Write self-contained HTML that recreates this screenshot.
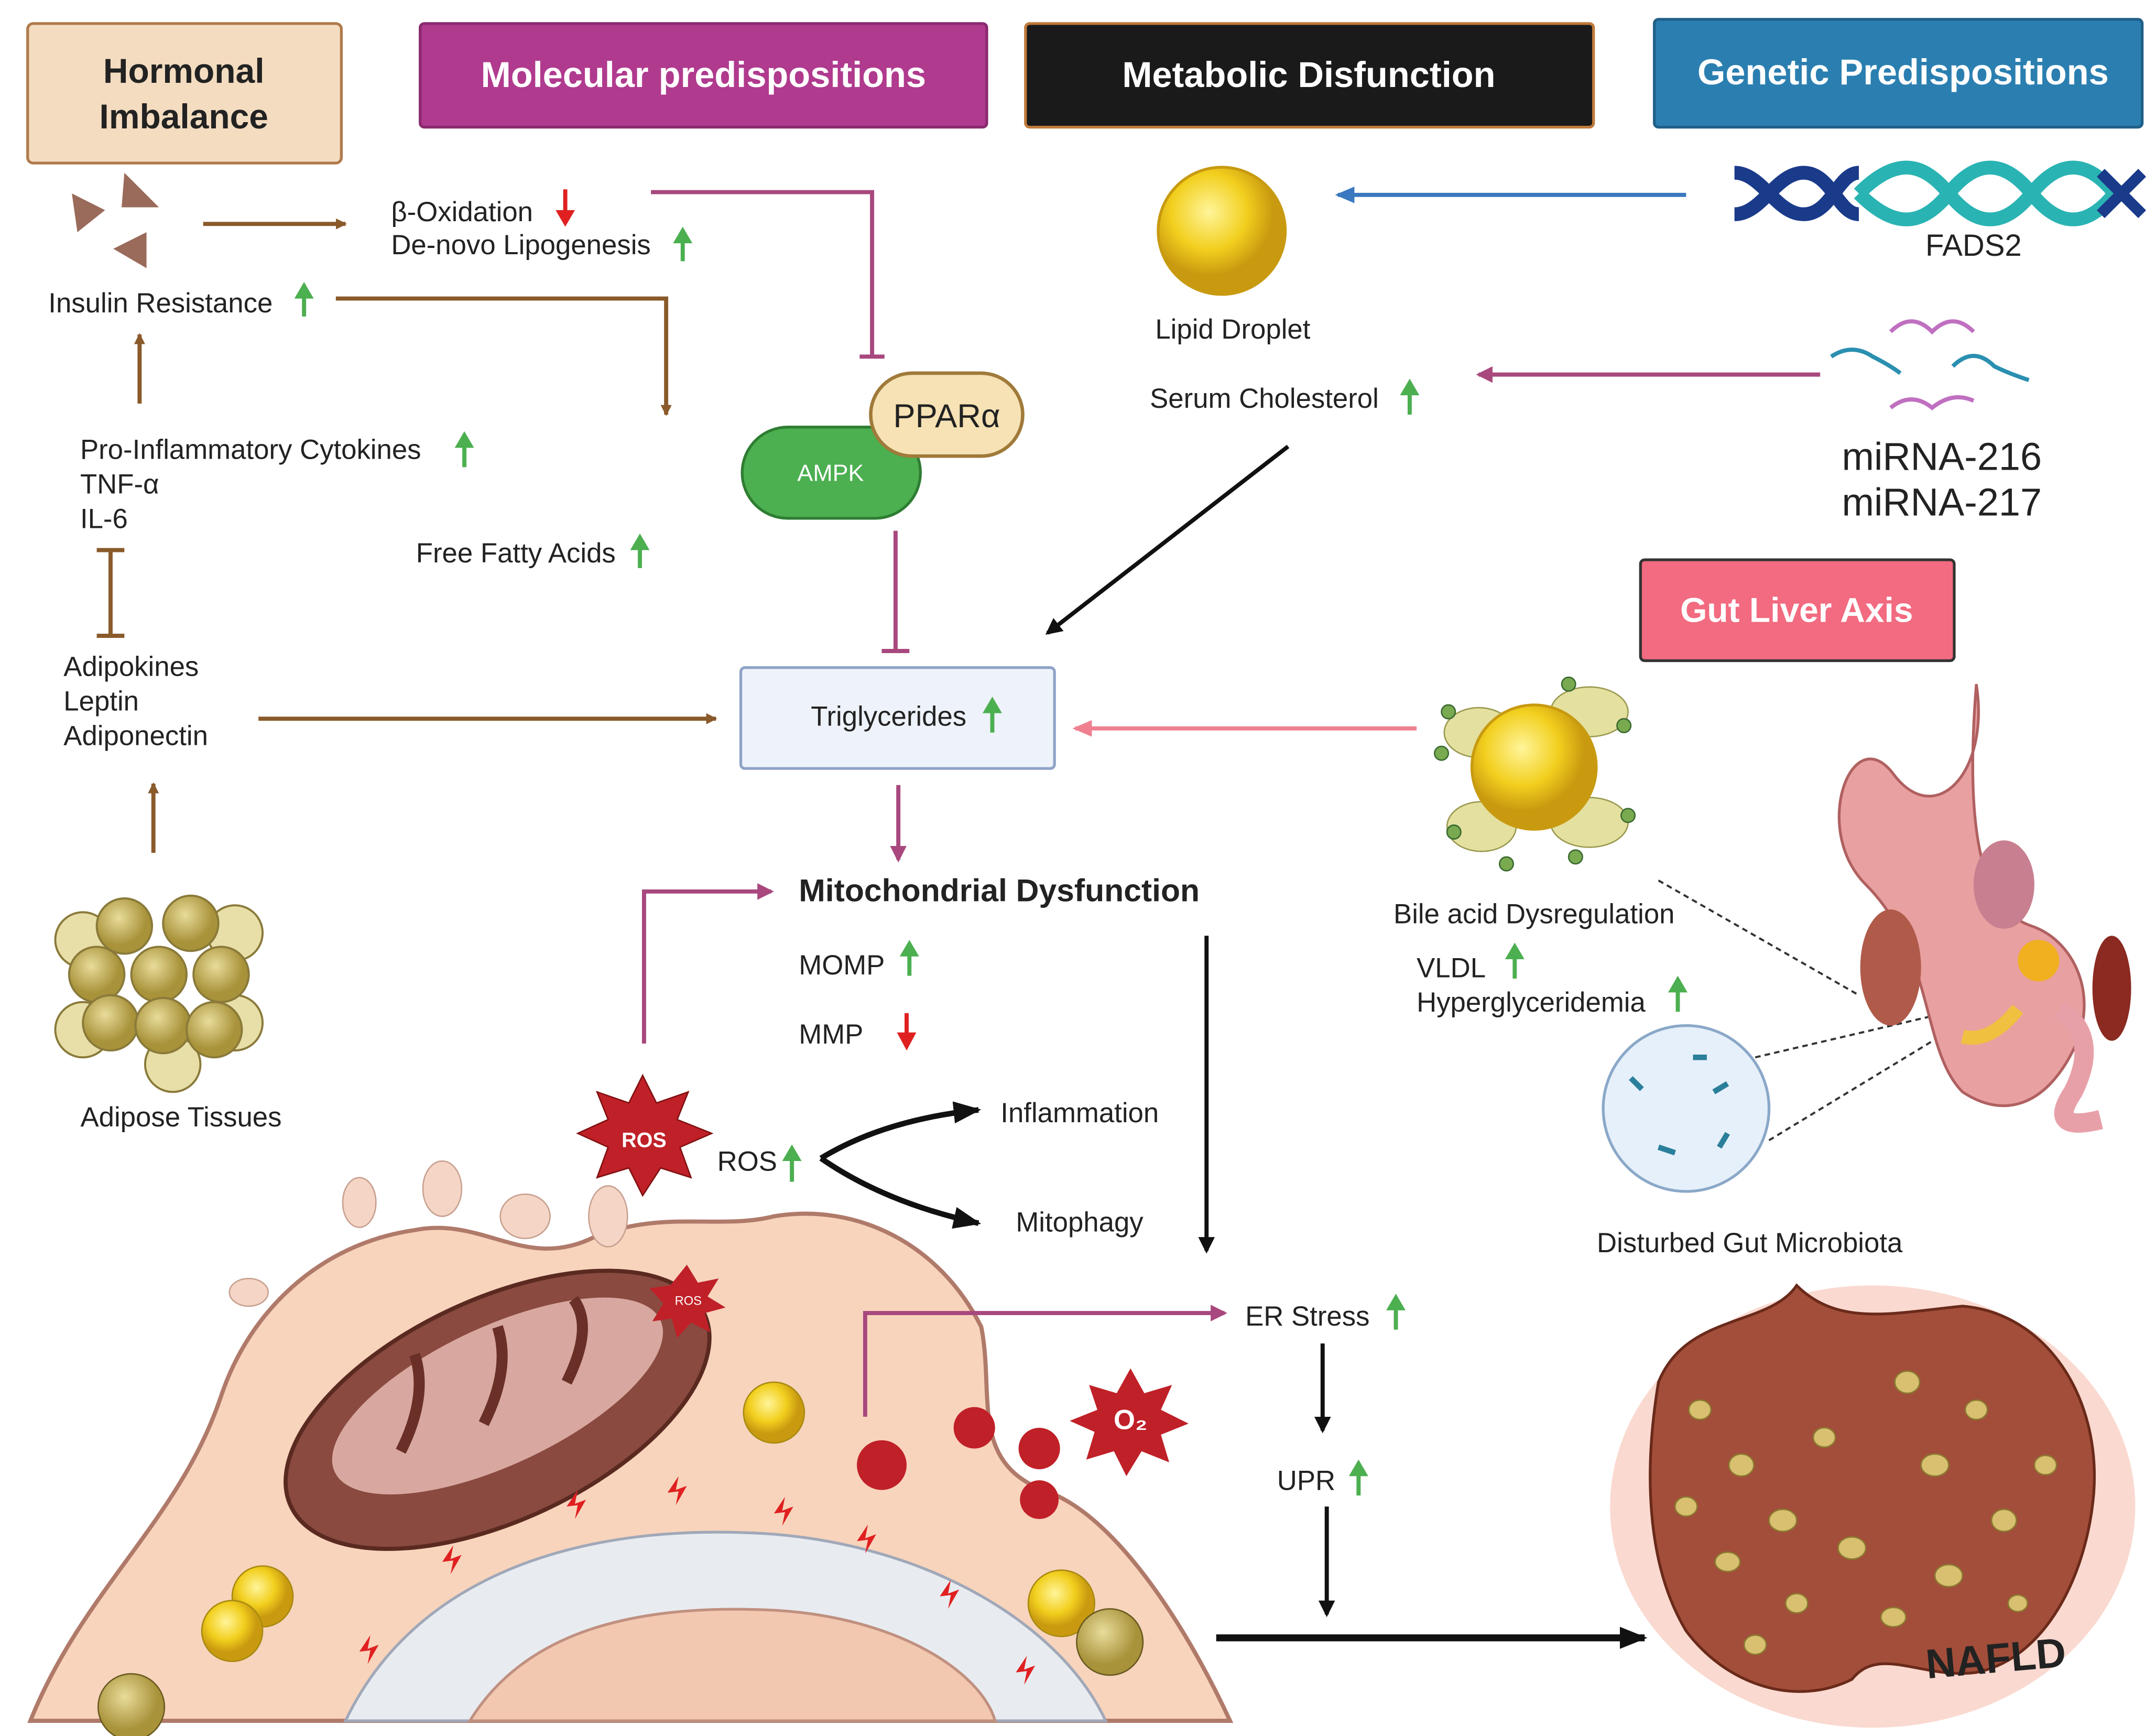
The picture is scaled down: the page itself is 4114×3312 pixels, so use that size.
<!DOCTYPE html>
<html><head><meta charset="utf-8"><style>
html,body{margin:0;padding:0;background:#fff}
svg{display:block}
text{font-family:"Liberation Sans",sans-serif;fill:#222}
</style></head><body>
<svg width="4114" height="3312" viewBox="0 0 1560 1256" preserveAspectRatio="none" xmlns="http://www.w3.org/2000/svg">
<defs>
<marker id="ab" markerWidth="8" markerHeight="8" refX="7" refY="4" orient="auto" markerUnits="userSpaceOnUse"><path d="M0,0 L8,4 L0,8z" fill="#8a5a2b"/></marker>
<marker id="ak" markerWidth="20" markerHeight="16" refX="18" refY="8" orient="auto" markerUnits="userSpaceOnUse"><path d="M0,0 L20,8 L0,16z" fill="#111"/></marker>
<marker id="ak2" markerWidth="12" markerHeight="12" refX="10" refY="6" orient="auto" markerUnits="userSpaceOnUse"><path d="M0,0 L12,6 L0,12z" fill="#111"/></marker>
<marker id="ap" markerWidth="12" markerHeight="12" refX="10" refY="6" orient="auto" markerUnits="userSpaceOnUse"><path d="M0,0 L12,6 L0,12z" fill="#a8487e"/></marker>
<marker id="abl" markerWidth="14" markerHeight="12" refX="12" refY="6" orient="auto" markerUnits="userSpaceOnUse"><path d="M0,0 L14,6 L0,12z" fill="#3a78c0"/></marker>
<marker id="apk" markerWidth="14" markerHeight="12" refX="12" refY="6" orient="auto" markerUnits="userSpaceOnUse"><path d="M0,0 L14,6 L0,12z" fill="#f08090"/></marker>
<radialGradient id="yel" cx="40%" cy="35%"><stop offset="0" stop-color="#fff59a"/><stop offset="0.6" stop-color="#f2cf1e"/><stop offset="1" stop-color="#c99a10"/></radialGradient>
<radialGradient id="fat" cx="40%" cy="35%"><stop offset="0" stop-color="#e8dc9a"/><stop offset="1" stop-color="#a8923a"/></radialGradient>
</defs>

<rect x="20" y="17" width="227" height="101" rx="4" fill="#f4dcc0" stroke="#b07a4c" stroke-width="2"/>
<text x="133" y="60" font-size="25" font-weight="bold" text-anchor="middle">Hormonal</text>
<text x="133" y="93" font-size="25" font-weight="bold" text-anchor="middle">Imbalance</text>
<rect x="304" y="17" width="410" height="75" rx="3" fill="#b03a8e" stroke="#8a2a6e" stroke-width="2"/>
<text x="509" y="63" font-size="26" font-weight="bold" style="fill:#fff" text-anchor="middle">Molecular predispositions</text>
<rect x="742" y="17" width="411" height="75" rx="3" fill="#1a1a1a" stroke="#c07a3a" stroke-width="2"/>
<text x="947" y="63" font-size="26" font-weight="bold" style="fill:#fff" text-anchor="middle">Metabolic Disfunction</text>
<rect x="1197" y="14" width="353" height="78" rx="3" fill="#2b7fb0" stroke="#1f5f88" stroke-width="2"/>
<text x="1377" y="61" font-size="26" font-weight="bold" style="fill:#fff" text-anchor="middle">Genetic Predispositions</text>
<rect x="1187" y="405" width="227" height="73" rx="3" fill="#f26b80" stroke="#333" stroke-width="2"/>
<text x="1300" y="450" font-size="25" font-weight="bold" style="fill:#fff" text-anchor="middle">Gut Liver Axis</text>

<path d="M52,140 L76,152 L56,168z" fill="#9a6a5a"/>
<path d="M90,125 L115,150 L88,150z" fill="#9a6a5a"/>
<path d="M82,180 L106,168 L106,194z" fill="#9a6a5a"/>
<line x1="147" y1="162" x2="250" y2="162" stroke="#8a5a2b" stroke-width="3" marker-end="url(#ab)"/>
<text x="283" y="160" font-size="20">β-Oxidation</text>
<path d="M409,137 v18" stroke="#e02020" stroke-width="3"/><path d="M402,152 L409,164 L416,152z" fill="#e02020"/>
<text x="283" y="184" font-size="20">De-novo Lipogenesis</text>
<path d="M494,189 v-16" stroke="#4caf50" stroke-width="3"/><path d="M487,176 L494,164 L501,176z" fill="#4caf50"/>
<text x="35" y="226" font-size="20">Insulin Resistance</text>
<path d="M220,229 v-16" stroke="#4caf50" stroke-width="3"/><path d="M213,216 L220,204 L227,216z" fill="#4caf50"/>
<path d="M243,216 H482 V300" stroke="#8a5a2b" stroke-width="3" fill="none" marker-end="url(#ab)"/>
<line x1="101" y1="292" x2="101" y2="242" stroke="#8a5a2b" stroke-width="3" marker-end="url(#ab)"/>
<text x="58" y="332" font-size="20">Pro-Inflammatory Cytokines</text>
<path d="M336,338 v-16" stroke="#4caf50" stroke-width="3"/><path d="M329,324 L336,312 L343,324z" fill="#4caf50"/>
<text x="58" y="357" font-size="20">TNF-α</text>
<text x="58" y="382" font-size="20">IL-6</text>
<path d="M70,398 h20 M80,398 v62 M70,460 h20" stroke="#8a5a2b" stroke-width="3"/>
<text x="46" y="489" font-size="20">Adipokines</text>
<text x="46" y="514" font-size="20">Leptin</text>
<text x="46" y="539" font-size="20">Adiponectin</text>
<line x1="187" y1="520" x2="518" y2="520" stroke="#8a5a2b" stroke-width="3" marker-end="url(#ab)"/>
<line x1="111" y1="617" x2="111" y2="567" stroke="#8a5a2b" stroke-width="3" marker-end="url(#ab)"/>
<text x="301" y="407" font-size="20">Free Fatty Acids</text>
<path d="M463,411 v-16" stroke="#4caf50" stroke-width="3"/><path d="M456,398 L463,386 L470,398z" fill="#4caf50"/>

<g stroke="#8a7a3a" stroke-width="1.5">
<circle cx="60" cy="680" r="20" fill="#e8dfa8"/><circle cx="170" cy="675" r="20" fill="#e8dfa8"/>
<circle cx="60" cy="745" r="20" fill="#e8dfa8"/><circle cx="170" cy="740" r="20" fill="#e8dfa8"/>
<circle cx="125" cy="770" r="20" fill="#e8dfa8"/><circle cx="70" cy="705" r="20" fill="url(#fat)"/>
<circle cx="90" cy="670" r="20" fill="url(#fat)"/><circle cx="138" cy="668" r="20" fill="url(#fat)"/>
<circle cx="115" cy="705" r="20" fill="url(#fat)"/><circle cx="160" cy="705" r="20" fill="url(#fat)"/>
<circle cx="80" cy="740" r="20" fill="url(#fat)"/><circle cx="118" cy="742" r="20" fill="url(#fat)"/>
<circle cx="155" cy="745" r="20" fill="url(#fat)"/>
</g>
<text x="131" y="815" font-size="20" text-anchor="middle">Adipose Tissues</text>

<path d="M471,139 H631 V258" stroke="#a8487e" stroke-width="3" fill="none"/><path d="M622,258 h18" stroke="#a8487e" stroke-width="3"/>
<rect x="537" y="309" width="129" height="66" rx="33" fill="#4caf50" stroke="#2e7d32" stroke-width="2"/>
<text x="601" y="348" font-size="17" style="fill:#fff" text-anchor="middle">AMPK</text>
<rect x="630" y="270" width="110" height="60" rx="30" fill="#f6e2b4" stroke="#a07a3a" stroke-width="2.5"/>
<text x="685" y="309" font-size="24" text-anchor="middle">PPARα</text>
<path d="M648,384 V470" stroke="#a8487e" stroke-width="3"/><path d="M638,471 h20" stroke="#a8487e" stroke-width="3"/>

<rect x="536" y="483" width="227" height="73" rx="3" fill="#eef2fa" stroke="#8fa3c8" stroke-width="2"/>
<text x="643" y="525" font-size="20" text-anchor="middle">Triglycerides</text>
<path d="M718,530 v-16" stroke="#4caf50" stroke-width="3"/><path d="M711,516 L718,504 L725,516z" fill="#4caf50"/>
<line x1="650" y1="568" x2="650" y2="622" stroke="#a8487e" stroke-width="3" marker-end="url(#ap)"/>

<circle cx="884" cy="167" r="46" fill="url(#yel)" stroke="#c89a10" stroke-width="2"/>
<text x="892" y="245" font-size="20" text-anchor="middle">Lipid Droplet</text>
<line x1="1220" y1="141" x2="968" y2="141" stroke="#3a78c0" stroke-width="3" marker-end="url(#abl)"/>
<path d="M1255,125 C1275,125 1285,155 1305,155 C1325,155 1330,125 1345,125" stroke="#1a3a8a" stroke-width="10" fill="none"/>
<path d="M1255,155 C1275,155 1285,125 1305,125 C1325,125 1330,155 1345,155" stroke="#1a3a8a" stroke-width="10" fill="none"/>
<path d="M1345,140 C1370,115 1390,115 1410,140 C1430,165 1450,165 1470,140 C1490,115 1510,115 1530,140" stroke="#2ab3b3" stroke-width="10" fill="none"/>
<path d="M1345,140 C1370,165 1390,165 1410,140 C1430,115 1450,115 1470,140 C1490,165 1510,165 1530,140" stroke="#2ab3b3" stroke-width="10" fill="none"/>
<path d="M1520,125 L1550,155 M1520,155 L1550,125" stroke="#1a3a8a" stroke-width="8"/>
<text x="1428" y="185" font-size="22" text-anchor="middle">FADS2</text>
<text x="832" y="295" font-size="20">Serum Cholesterol</text>
<path d="M1020,300 v-16" stroke="#4caf50" stroke-width="3"/><path d="M1013,286 L1020,274 L1027,286z" fill="#4caf50"/>
<line x1="1317" y1="271" x2="1070" y2="271" stroke="#a8487e" stroke-width="3" marker-end="url(#ap)"/>
<g stroke-width="3" fill="none">
<path d="M1368,240 q15,-15 30,0 q15,-15 30,0" stroke="#c070c0"/><path d="M1325,258 q15,-10 30,0 q12,6 20,12" stroke="#2a8fb0"/>
<path d="M1413,265 q15,-15 30,0 q10,5 25,10" stroke="#2a8fb0"/><path d="M1368,295 q15,-12 30,0 q15,-12 30,-5" stroke="#c070c0"/>
</g>
<text x="1405" y="340" font-size="28" text-anchor="middle">miRNA-216</text>
<text x="1405" y="373" font-size="28" text-anchor="middle">miRNA-217</text>
<line x1="932" y1="323" x2="758" y2="458" stroke="#111" stroke-width="3" marker-end="url(#ak2)"/>

<line x1="1025" y1="527" x2="778" y2="527" stroke="#f08090" stroke-width="3" marker-end="url(#apk)"/>
<g fill="#e4e0a0" stroke="#9a9a50">
<ellipse cx="1070" cy="530" rx="25" ry="18"/><ellipse cx="1150" cy="515" rx="28" ry="18"/><ellipse cx="1150" cy="595" rx="28" ry="18"/><ellipse cx="1072" cy="598" rx="25" ry="18"/>
</g>
<circle cx="1110" cy="555" r="45" fill="url(#yel)" stroke="#c89a10" stroke-width="2"/>
<g fill="#7aaa50" stroke="#3a6a30"><circle cx="1043" cy="545" r="5"/><circle cx="1048" cy="515" r="5"/><circle cx="1135" cy="495" r="5"/><circle cx="1175" cy="525" r="5"/><circle cx="1178" cy="590" r="5"/><circle cx="1140" cy="620" r="5"/><circle cx="1052" cy="602" r="5"/><circle cx="1090" cy="625" r="5"/></g>
<text x="1110" y="668" font-size="20" text-anchor="middle">Bile acid Dysregulation</text>
<text x="1025" y="707" font-size="20">VLDL</text>
<path d="M1096,708 v-16" stroke="#4caf50" stroke-width="3"/><path d="M1089,694 L1096,682 L1103,694z" fill="#4caf50"/>
<text x="1025" y="732" font-size="20">Hyperglyceridemia</text>
<path d="M1214,732 v-16" stroke="#4caf50" stroke-width="3"/><path d="M1207,718 L1214,706 L1221,718z" fill="#4caf50"/>
<circle cx="1220" cy="802" r="60" fill="#e6f0fa" stroke="#8aa8c8" stroke-width="2"/>
<g stroke="#2a7f9a" stroke-width="4"><path d="M1180,780 l8,8"/><path d="M1240,790 l10,-6"/><path d="M1200,830 l12,4"/><path d="M1250,820 l-6,10"/><path d="M1225,765 l10,0"/></g>
<path d="M1200,637 L1345,720 M1270,765 L1420,730 M1280,825 L1420,740" stroke="#333" stroke-width="1.5" stroke-dasharray="4,3"/>
<text x="1266" y="906" font-size="20" text-anchor="middle">Disturbed Gut Microbiota</text>
<path d="M1430,495 C1440,560 1400,600 1370,560 C1340,520 1310,600 1350,640 C1400,690 1390,760 1420,790 C1450,810 1480,800 1500,760 C1520,720 1500,680 1470,670 C1440,660 1420,620 1430,495z" fill="#e9a0a0" stroke="#b06060" stroke-width="2"/>
<ellipse cx="1450" cy="640" rx="22" ry="32" fill="#c88090"/>
<ellipse cx="1368" cy="700" rx="22" ry="42" fill="#b05a4a"/>
<ellipse cx="1528" cy="715" rx="14" ry="38" fill="#8a2a20"/>
<circle cx="1475" cy="695" r="15" fill="#f0b020"/>
<path d="M1420,750 q20,5 40,-20" stroke="#f0c040" stroke-width="10" fill="none"/>
<path d="M1490,730 q30,20 10,60 q-20,30 20,20" stroke="#e8a0a8" stroke-width="14" fill="none"/>

<path d="M466,755 V645 H558" stroke="#a8487e" stroke-width="3" fill="none" marker-end="url(#ap)"/>
<text x="578" y="652" font-size="23" font-weight="bold">Mitochondrial Dysfunction</text>
<text x="578" y="705" font-size="20">MOMP</text>
<path d="M658,706 v-16" stroke="#4caf50" stroke-width="3"/><path d="M651,692 L658,680 L665,692z" fill="#4caf50"/>
<text x="578" y="755" font-size="20">MMP</text>
<path d="M656,733 v16" stroke="#e02020" stroke-width="3"/><path d="M649,747 L656,760 L663,747z" fill="#e02020"/>
<line x1="873" y1="677" x2="873" y2="905" stroke="#111" stroke-width="3" marker-end="url(#ak2)"/>
<text x="519" y="847" font-size="20">ROS</text>
<path d="M573,855 v-16" stroke="#4caf50" stroke-width="3"/><path d="M566,840 L573,828 L580,840z" fill="#4caf50"/>
<path d="M594,838 Q640,810 708,803" stroke="#111" stroke-width="4" fill="none" marker-end="url(#ak)"/>
<path d="M594,838 Q640,870 708,885" stroke="#111" stroke-width="4" fill="none" marker-end="url(#ak)"/>
<text x="724" y="812" font-size="20">Inflammation</text>
<text x="735" y="891" font-size="20">Mitophagy</text>

<text x="901" y="959" font-size="20">ER Stress</text>
<path d="M1010,962 v-16" stroke="#4caf50" stroke-width="3"/><path d="M1003,948 L1010,936 L1017,948z" fill="#4caf50"/>
<line x1="957" y1="972" x2="957" y2="1035" stroke="#111" stroke-width="3" marker-end="url(#ak2)"/>
<text x="924" y="1078" font-size="20">UPR</text>
<path d="M983,1082 v-16" stroke="#4caf50" stroke-width="3"/><path d="M976,1068 L983,1056 L990,1068z" fill="#4caf50"/>
<line x1="960" y1="1090" x2="960" y2="1168" stroke="#111" stroke-width="3" marker-end="url(#ak2)"/>
<line x1="880" y1="1185" x2="1190" y2="1185" stroke="#111" stroke-width="5" marker-end="url(#ak)"/>

<!-- cell -->
<path d="M22,1245 C60,1150 130,1100 160,1010 C180,950 230,900 300,890 C350,880 380,920 430,895 C480,875 520,890 560,880 C620,870 680,900 710,960 C720,1010 700,1060 760,1080 C810,1100 860,1180 890,1245z" fill="#f8d4bc" stroke="#b07a6a" stroke-width="3"/>
<path d="M250,1245 C300,1140 420,1100 560,1110 C680,1120 770,1180 800,1245z" fill="#e8ecf0" stroke="#a0a8b8" stroke-width="2"/>
<path d="M340,1245 C380,1180 460,1160 560,1165 C650,1170 710,1210 720,1245z" fill="#f2c8b0" stroke="#c09080" stroke-width="2"/>
<g fill="#f5d6c6" stroke="#c8a090"><ellipse cx="260" cy="870" rx="12" ry="18"/><ellipse cx="320" cy="860" rx="14" ry="20"/><ellipse cx="380" cy="880" rx="18" ry="16"/><ellipse cx="440" cy="880" rx="14" ry="22"/><ellipse cx="180" cy="935" rx="14" ry="10"/></g>
<ellipse cx="360" cy="1020" rx="165" ry="80" transform="rotate(-25 360 1020)" fill="#8a4a40" stroke="#5a2a20" stroke-width="3"/>
<ellipse cx="360" cy="1010" rx="130" ry="50" transform="rotate(-25 360 1010)" fill="#d8a8a0"/>
<g stroke="#6a3028" stroke-width="8" fill="none"><path d="M290,1050 q20,-40 10,-70"/><path d="M350,1030 q20,-40 10,-70"/><path d="M410,1000 q20,-40 5,-60"/></g>
<polygon points="465,778 475,798 498,790 490,810 515,820 492,830 500,852 478,845 465,865 455,845 432,852 440,830 418,820 440,810 432,790 455,798" fill="#c02028" stroke="#801010"/>
<text x="466" y="830" font-size="15" font-weight="bold" style="fill:#fff" text-anchor="middle">ROS</text>
<polygon points="497,915 505,928 520,925 512,938 525,946 510,950 514,964 500,957 490,968 486,954 472,956 480,943 470,932 485,930" fill="#c02028"/>
<text x="498" y="944" font-size="9" style="fill:#fff" text-anchor="middle">ROS</text>
<polygon points="818,990 828,1008 848,1002 840,1020 860,1030 840,1038 846,1058 826,1050 815,1068 806,1050 786,1056 792,1036 774,1028 794,1020 788,1002 808,1008" fill="#c02028"/>
<text x="818" y="1034" font-size="20" font-weight="bold" style="fill:#fff" text-anchor="middle">O₂</text>
<g fill="#c02028"><circle cx="638" cy="1060" r="18"/><circle cx="705" cy="1033" r="15"/><circle cx="752" cy="1048" r="15"/><circle cx="752" cy="1085" r="14"/></g>
<g fill="url(#yel)" stroke="#a88a10"><circle cx="560" cy="1022" r="22"/><circle cx="190" cy="1155" r="22"/><circle cx="168" cy="1180" r="22"/><circle cx="768" cy="1160" r="24"/></g>
<g fill="url(#fat)" stroke="#6a5a20"><circle cx="803" cy="1188" r="24"/><circle cx="95" cy="1235" r="24"/></g>
<g fill="#e02020"><path d="M320,1130 l8,-12 l-2,10 l8,-3 l-8,14 l2,-10z"/><path d="M410,1090 l8,-12 l-2,10 l8,-3 l-8,14 l2,-10z"/><path d="M483,1080 l8,-12 l-2,10 l8,-3 l-8,14 l2,-10z"/><path d="M560,1095 l8,-12 l-2,10 l8,-3 l-8,14 l2,-10z"/><path d="M620,1115 l8,-12 l-2,10 l8,-3 l-8,14 l2,-10z"/><path d="M680,1155 l8,-12 l-2,10 l8,-3 l-8,14 l2,-10z"/><path d="M260,1195 l8,-12 l-2,10 l8,-3 l-8,14 l2,-10z"/><path d="M735,1210 l8,-12 l-2,10 l8,-3 l-8,14 l2,-10z"/></g>
<!-- ER arrow on top of cell -->
<path d="M626,1025 V950 H886" stroke="#a8487e" stroke-width="3" fill="none" marker-end="url(#ap)"/>

<!-- liver -->
<ellipse cx="1355" cy="1090" rx="190" ry="160" fill="#f7c0b0" opacity="0.6"/>
<path d="M1200,1000 C1220,950 1280,960 1300,930 C1330,960 1370,950 1420,945 C1480,950 1520,1010 1515,1080 C1510,1140 1480,1200 1430,1210 C1390,1215 1360,1190 1340,1215 C1300,1235 1250,1220 1220,1180 C1190,1130 1190,1060 1200,1000z" fill="#a24e3a" stroke="#6a2a1a" stroke-width="2"/>
<g fill="#d8c070" stroke="#8a7a30">
<ellipse cx="1230" cy="1020" rx="8" ry="7"/><ellipse cx="1260" cy="1060" rx="9" ry="8"/><ellipse cx="1290" cy="1100" rx="10" ry="8"/><ellipse cx="1250" cy="1130" rx="9" ry="7"/><ellipse cx="1300" cy="1160" rx="8" ry="7"/><ellipse cx="1320" cy="1040" rx="8" ry="7"/><ellipse cx="1340" cy="1120" rx="10" ry="8"/><ellipse cx="1380" cy="1000" rx="9" ry="8"/><ellipse cx="1400" cy="1060" rx="10" ry="8"/><ellipse cx="1430" cy="1020" rx="8" ry="7"/><ellipse cx="1450" cy="1100" rx="9" ry="8"/><ellipse cx="1410" cy="1140" rx="10" ry="8"/><ellipse cx="1480" cy="1060" rx="8" ry="7"/><ellipse cx="1370" cy="1170" rx="9" ry="7"/><ellipse cx="1270" cy="1190" rx="8" ry="7"/><ellipse cx="1220" cy="1090" rx="8" ry="7"/><ellipse cx="1460" cy="1160" rx="7" ry="6"/>
</g>
<text x="1445" y="1210" font-size="30" font-weight="bold" text-anchor="middle" transform="rotate(-5 1445 1210)">NAFLD</text>
</svg>
</body></html>
